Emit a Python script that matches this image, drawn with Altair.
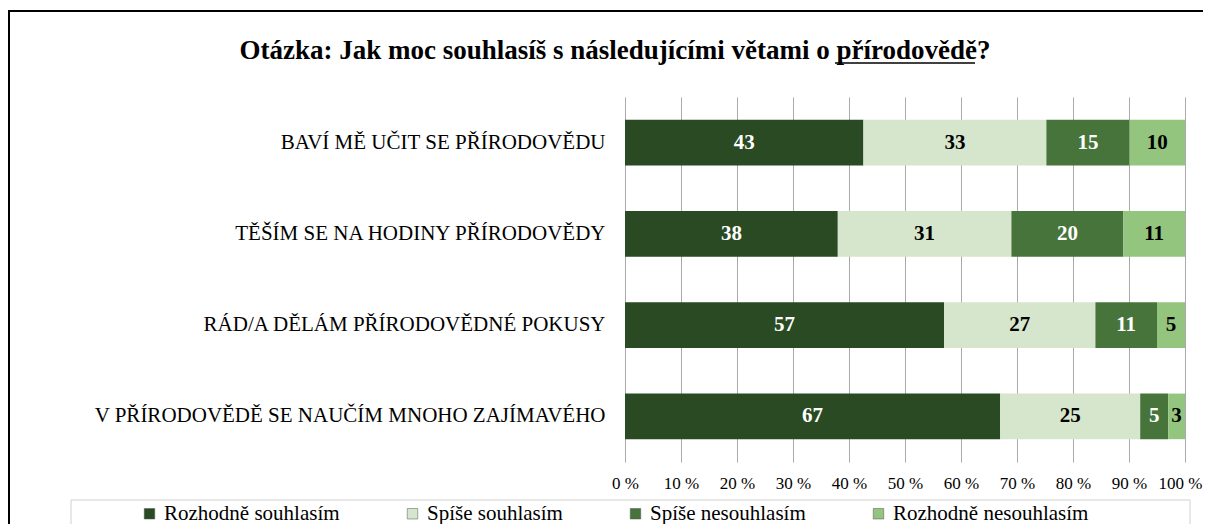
import altair as alt
import pandas as pd

questions = [
    "BAVÍ MĚ UČIT SE PŘÍRODOVĚDU",
    "TĚŠÍM SE NA HODINY PŘÍRODOVĚDY",
    "RÁD/A DĚLÁM PŘÍRODOVĚDNÉ POKUSY",
    "V PŘÍRODOVĚDĚ SE NAUČÍM MNOHO ZAJÍMAVÉHO",
]
answers = ["Rozhodně souhlasím", "Spíše souhlasím", "Spíše nesouhlasím", "Rozhodně nesouhlasím"]
rozhodne_souhlasim = [43, 38, 57, 67]
spise_souhlasim = [33, 31, 27, 25]
spise_nesouhlasim = [15, 20, 11, 5]
rozhodne_nesouhlasim = [10, 11, 5, 3]
colors = ["#294a22", "#d6e6cc", "#47743a", "#93c57e"]
title_text = "Otázka: Jak moc souhlasíš s následujícími větami o přírodovědě?"

series = [rozhodne_souhlasim, spise_souhlasim, spise_nesouhlasim, rozhodne_nesouhlasim]
rows = []
for ai, (a, vals) in enumerate(zip(answers, series)):
    for q, v in zip(questions, vals):
        rows.append({"q": q, "a": a, "ord": ai, "v": v})
df = pd.DataFrame(rows)

FONT = "Liberation Serif"
W, H = 560, 365
PL, PT, PR, PB = 617, 89, 18, 62

base = alt.Chart(df).transform_joinaggregate(
    total="sum(v)", groupby=["q"]
).transform_calculate(
    pct="datum.v / datum.total"
).transform_stack(
    stack="pct", groupby=["q"], as_=["x0", "x1"], sort=[alt.SortField("ord")]
).transform_calculate(
    xm="(datum.x0 + datum.x1) / 2",
    tc="datum.ord % 2 == 0 ? 'white' : 'black'",
)

yenc = alt.Y("q:N", sort=questions, title=None,
             scale=alt.Scale(paddingInner=0.5, paddingOuter=0.25),
             axis=alt.Axis(labelFont=FONT, labelFontSize=21, labelColor="black",
                           labelPadding=20, labelLimit=0, domain=False, ticks=False))

bars = base.mark_bar().encode(
    x=alt.X("x0:Q", title=None,
            scale=alt.Scale(domain=[0, 1], nice=False),
            axis=alt.Axis(values=[i / 10 for i in range(11)],
                          labelExpr="round(datum.value * 100) + ' %'",
                          labelFont=FONT, labelFontSize=17, labelColor="black",
                          labelOverlap=False, labelBound=False, labelFlush=False,
                          labelOffset={"condition": {"test": "datum.value == 1", "value": -5},
                                       "value": 0},
                          labelPadding=13, domain=False, ticks=False,
                          grid=True, gridColor="#aaaaaa", gridWidth=1)),
    x2="x1:Q",
    y=yenc,
    color=alt.Color("a:N", sort=answers,
                    scale=alt.Scale(domain=answers, range=colors),
                    legend=alt.Legend(title=None, orient="none", direction="horizontal",
                                      columns=4, legendX=-486, legendY=406,
                                      symbolType="square", symbolSize=110,
                                      symbolStrokeWidth=0.5, symbolStrokeColor="#555555",
                                      labelFont=FONT, labelFontSize=21, labelColor="black",
                                      labelOffset=4, columnPadding=62, labelLimit=0)),
)

labels = base.mark_text(font=FONT, fontSize=21, fontWeight="bold", baseline="middle").encode(
    x=alt.X("xm:Q"),
    y=alt.Y("q:N", sort=questions),
    text=alt.Text("v:Q"),
    color=alt.Color("tc:N", scale=None),
)

one = pd.DataFrame({"t": [title_text]})

frame = alt.Chart(one).mark_rect(fill=None, stroke="black", strokeWidth=2).encode(
    x=alt.value(-616), x2=alt.value(620), y=alt.value(-86), y2=alt.value(460)
)
legend_box = alt.Chart(one).mark_rect(fill="white", stroke="#d0d0d0", strokeWidth=1).encode(
    x=alt.value(-554), x2=alt.value(565), y=alt.value(403), y2=alt.value(434)
)
title = alt.Chart(one).mark_text(font=FONT, fontSize=27, fontWeight="bold",
                                 align="center", baseline="alphabetic", color="black").encode(
    x=alt.value(-10), y=alt.value(-38), text="t:N"
)
underline = alt.Chart(one).mark_rule(color="black", strokeWidth=1.5).encode(
    x=alt.value(210), x2=alt.value(350), y=alt.value(-34)
)

chart = alt.layer(frame, legend_box, bars, labels, title, underline).properties(
    width=W, height=H,
    autosize=alt.AutoSizeParams(type="none"),
    padding={"left": PL, "top": PT, "right": PR, "bottom": PB},
    background="white",
).configure(font=FONT).configure_view(stroke=None)

chart.save("out.html", embed_options={"renderer": "svg", "actions": False})
